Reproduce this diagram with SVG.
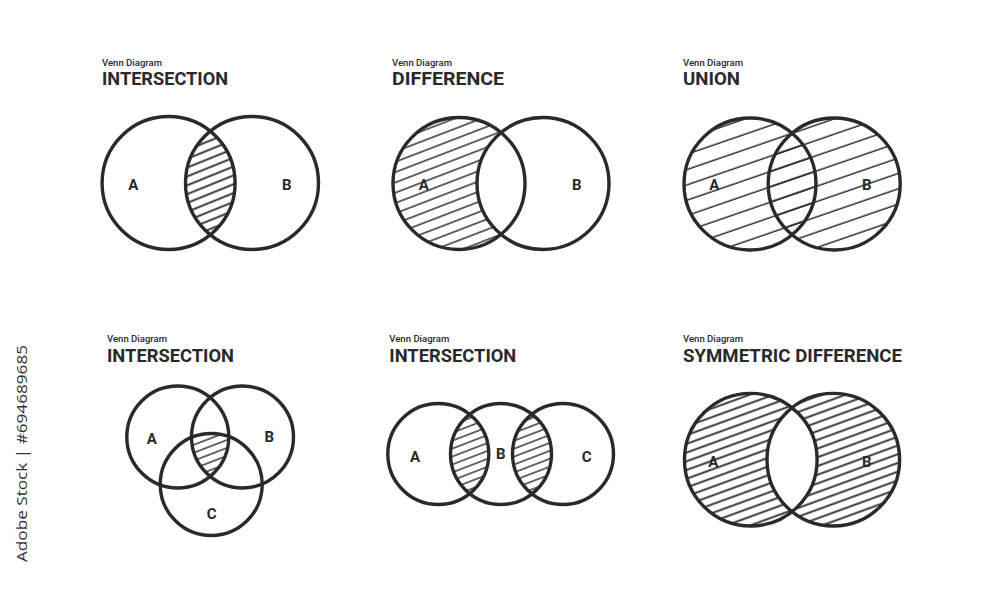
<svg xmlns="http://www.w3.org/2000/svg" width="1000" height="600" viewBox="0 0 1000 600">
<style>
.c{fill:none;stroke:#2a2a2a;stroke-width:3.4}
.sub{font-family:Roboto,"Liberation Sans",sans-serif;font-weight:500;font-size:9px;fill:#2a2a2a}
.ttl{font-family:Roboto,"Liberation Sans",sans-serif;font-weight:700;font-size:17.5px;fill:#2a2a2a}
.lbl{font-family:Roboto,"Liberation Sans",sans-serif;font-weight:700;font-size:15px;fill:#2a2a2a;text-anchor:middle}
.hl{stroke:#2a2a2a;stroke-width:1.6}
</style>
<defs>
<pattern id="h7" patternUnits="userSpaceOnUse" width="40" height="7.4" patternTransform="rotate(-21)">
<line class="hl" x1="0" y1="3.7" x2="40" y2="3.7"/>
</pattern>
<pattern id="h1" patternUnits="userSpaceOnUse" width="40" height="8.2" patternTransform="rotate(-22)">
<line class="hl" x1="0" y1="4.1" x2="40" y2="4.1"/>
</pattern>
<pattern id="h8" patternUnits="userSpaceOnUse" width="40" height="9.6" patternTransform="rotate(-21)">
<line class="hl" x1="0" y1="4.8" x2="40" y2="4.8"/>
</pattern>
<pattern id="h6" patternUnits="userSpaceOnUse" width="40" height="8.2" patternTransform="rotate(-20)">
<line class="hl" x1="0" y1="4.1" x2="40" y2="4.1"/>
</pattern>
<pattern id="h14" patternUnits="userSpaceOnUse" width="40" height="14.5" patternTransform="rotate(-19)">
<line class="hl" x1="0" y1="7" x2="40" y2="7"/>
</pattern>
<clipPath id="cp1a"><circle cx="168.6" cy="183" r="66.5"/></clipPath>
<mask id="m2">
<rect x="380" y="100" width="250" height="170" fill="#fff"/>
<circle cx="543" cy="183.5" r="66" fill="#000"/>
</mask>
<clipPath id="cp4a"><circle cx="177.8" cy="437" r="51"/></clipPath>
<clipPath id="cp4b"><circle cx="242.5" cy="437" r="51"/></clipPath>
<clipPath id="cp5b"><circle cx="501" cy="454" r="50.5"/></clipPath>
</defs>
<rect width="1000" height="600" fill="#fff"/>

<g id="panel-intersection-ab">
<text class="sub" x="102" y="66" textLength="60" lengthAdjust="spacingAndGlyphs">Venn Diagram</text>
<text class="ttl" x="102" y="85" textLength="126" lengthAdjust="spacingAndGlyphs">INTERSECTION</text>
<g clip-path="url(#cp1a)"><circle cx="252" cy="183" r="66.5" fill="url(#h1)"/></g>
<circle class="c" cx="168.6" cy="183" r="66.5"/>
<circle class="c" cx="252" cy="183" r="66.5"/>
<text class="lbl" x="133.3" y="190">A</text>
<text class="lbl" x="286.7" y="190">B</text>
</g>

<g id="panel-difference">
<text class="sub" x="392" y="66" textLength="60" lengthAdjust="spacingAndGlyphs">Venn Diagram</text>
<text class="ttl" x="392" y="85" textLength="112" lengthAdjust="spacingAndGlyphs">DIFFERENCE</text>
<circle cx="459" cy="183.5" r="66" fill="url(#h8)" mask="url(#m2)"/>
<circle class="c" cx="459" cy="183.5" r="66"/>
<circle class="c" cx="543" cy="183.5" r="66"/>
<text class="lbl" x="423.7" y="190">A</text>
<text class="lbl" x="576.7" y="190">B</text>
</g>

<g id="panel-union">
<text class="sub" x="683" y="66" textLength="60" lengthAdjust="spacingAndGlyphs">Venn Diagram</text>
<text class="ttl" x="683" y="85" textLength="57" lengthAdjust="spacingAndGlyphs">UNION</text>
<circle cx="750" cy="184" r="66" fill="url(#h14)"/>
<circle cx="834.2" cy="184" r="66" fill="url(#h14)"/>
<circle class="c" cx="750" cy="184" r="66"/>
<circle class="c" cx="834.2" cy="184" r="66"/>
<text class="lbl" x="714.3" y="190">A</text>
<text class="lbl" x="866.7" y="190">B</text>
</g>

<g id="panel-intersection-abc">
<text class="sub" x="107" y="342" textLength="60" lengthAdjust="spacingAndGlyphs">Venn Diagram</text>
<text class="ttl" x="107" y="361.5" textLength="127" lengthAdjust="spacingAndGlyphs">INTERSECTION</text>
<g clip-path="url(#cp4a)"><g clip-path="url(#cp4b)"><circle cx="211.2" cy="484.5" r="51" fill="url(#h7)"/></g></g>
<circle class="c" cx="177.8" cy="437" r="51"/>
<circle class="c" cx="242.5" cy="437" r="51"/>
<circle class="c" cx="211.2" cy="484.5" r="51"/>
<text class="lbl" x="151.7" y="443.5">A</text>
<text class="lbl" x="269.3" y="442">B</text>
<text class="lbl" x="211.7" y="519">C</text>
</g>

<g id="panel-intersection-chain">
<text class="sub" x="389.3" y="342" textLength="60" lengthAdjust="spacingAndGlyphs">Venn Diagram</text>
<text class="ttl" x="389.3" y="361.5" textLength="127" lengthAdjust="spacingAndGlyphs">INTERSECTION</text>
<g clip-path="url(#cp5b)">
<circle cx="438.3" cy="454" r="50.5" fill="url(#h7)"/>
<circle cx="563" cy="454" r="50.5" fill="url(#h7)"/>
</g>
<circle class="c" cx="438.3" cy="454" r="50.5"/>
<circle class="c" cx="501" cy="454" r="50.5"/>
<circle class="c" cx="563" cy="454" r="50.5"/>
<text class="lbl" x="415" y="462">A</text>
<text class="lbl" x="500.7" y="458.5">B</text>
<text class="lbl" x="586.7" y="462">C</text>
</g>

<g id="panel-symmetric-difference">
<text class="sub" x="683" y="342" textLength="60" lengthAdjust="spacingAndGlyphs">Venn Diagram</text>
<text class="ttl" x="683" y="361.5" textLength="219" lengthAdjust="spacingAndGlyphs">SYMMETRIC DIFFERENCE</text>
<path fill="url(#h6)" fill-rule="evenodd" d="M684.5,459.7a66.3,66.3 0 1,0 132.6,0a66.3,66.3 0 1,0 -132.6,0z M767,459.7a66.3,66.3 0 1,0 132.6,0a66.3,66.3 0 1,0 -132.6,0z"/>
<circle class="c" cx="750.8" cy="459.7" r="66.3"/>
<circle class="c" cx="833.3" cy="459.7" r="66.3"/>
<text class="lbl" x="713.3" y="467">A</text>
<text class="lbl" x="866.7" y="467">B</text>
</g>

<text transform="translate(27,562) rotate(-90)" font-family="'Open Sans','Liberation Sans',sans-serif" font-size="14" fill="#333" textLength="217" lengthAdjust="spacingAndGlyphs">Adobe Stock | #694689685</text>
</svg>
